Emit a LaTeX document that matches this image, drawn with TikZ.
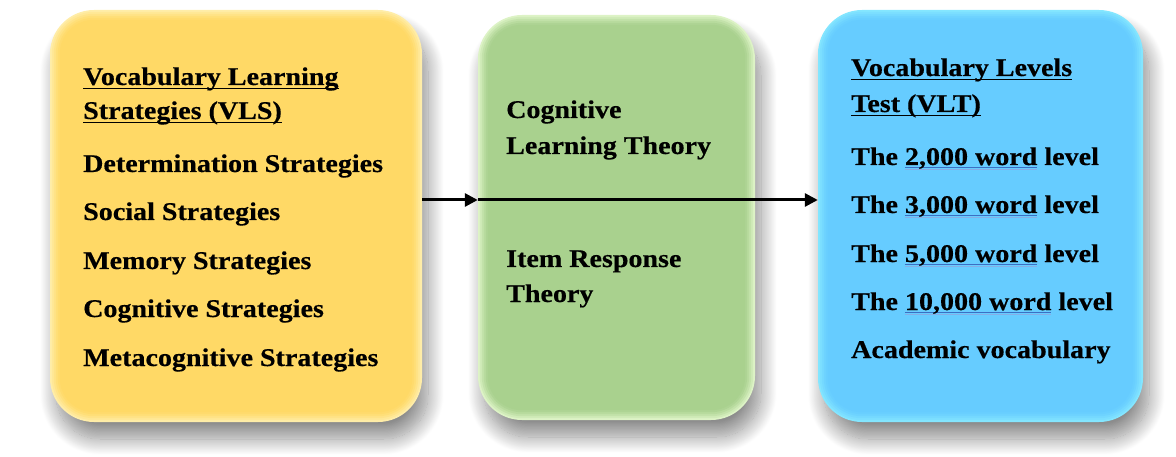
\documentclass[tikz,border=0pt]{standalone}
\usepackage{fontspec}
\setmainfont{Liberation Serif}[FakeStretch=1.1, BoldFeatures={FakeBold=0.4}]
\usetikzlibrary{calc,arrows.meta,shadows.blur}

\definecolor{ymain}{HTML}{FFD966}
\definecolor{yrim}{HTML}{FFEDA8}
\definecolor{gmain}{HTML}{A9D18E}
\definecolor{grim}{HTML}{DDF3C6}
\definecolor{bmain}{HTML}{66CCFF}
\definecolor{brim}{HTML}{84E6FF}
\definecolor{linkdark}{HTML}{3B6FC4}
\definecolor{linklight}{HTML}{86AEE6}

% word underline in black, crossing the descenders
\newcommand\headul[1]{\setbox0\hbox{#1}\rlap{\rule[-4.5pt]{\wd0}{1.4pt}}\box0\relax}
% double blue underline
\newcommand\linkul[1]{\setbox0\hbox{#1}\rlap{\color{linkdark}\rule[-3.2pt]{\wd0}{1.1pt}}\rlap{\color{linklight}\rule[-5.2pt]{\wd0}{0.8pt}}\box0\relax}

\tikzset{
  panel/.style={rounded corners=44pt, inner sep=0pt,
    blur shadow={shadow xshift=6pt, shadow yshift=-17pt,
      shadow blur radius=16pt, shadow blur steps=28,
      shadow opacity=45, shadow scale=1.0}},
  txt/.style={anchor=base west, inner sep=0pt,
    font=\fontsize{25.5}{30}\selectfont\bfseries},
  flow/.style={line width=3pt, -{Triangle[length=13pt,width=13pt]}},
}

% soft rim: rings inset step by step, from the rim colour to the fill colour
\newcommand\panelfill[3]{%
  \foreach \k/\p in {2/75,4/50,6/28,8/10,10/0}{%
    \fill[#3!\p!#2, rounded corners={44pt-\k pt}]
      ($(#1.south west)+(\k,-\k)$) rectangle ($(#1.north east)+(-\k,\k)$);}}

\begin{document}
\begin{tikzpicture}[x=1pt,y=-1pt]
\useasboundingbox (0,0) rectangle (1176,457);

% panels
\node[panel, fill=yrim, minimum width=372pt, minimum height=412pt] (vls) at (236,216) {};
\node[panel, fill=grim, minimum width=277pt, minimum height=405pt] (mid) at (616.5,217.5) {};
\node[panel, fill=brim, minimum width=325pt, minimum height=412pt] (vlt) at (980.5,216) {};
\panelfill{vls}{ymain}{yrim}
\panelfill{mid}{gmain}{grim}
\panelfill{vlt}{bmain}{brim}

% left panel text
\node[txt] (vls1) at (83,85)  {\headul{Vocabulary Learning}};
\node[txt] (vls2) at (83,119) {\headul{Strategies (VLS)}};
\node[txt] (vls3) at (83,172) {Determination Strategies};
\node[txt] (vls4) at (83,220) {Social Strategies};
\node[txt] (vls5) at (83,269) {Memory Strategies};
\node[txt] (vls6) at (83,317) {Cognitive Strategies};
\node[txt] (vls7) at (83,366) {Metacognitive Strategies};

% middle panel text
\node[txt] (mid1) at (506,118) {Cognitive};
\node[txt] (mid2) at (506,154) {Learning Theory};
\node[txt] (mid3) at (506,267) {Item Response};
\node[txt] (mid4) at (506,302) {Theory};

% right panel text
\node[txt] (vlt1) at (851,76)  {\headul{Vocabulary Levels}};
\node[txt] (vlt2) at (851,112) {\headul{Test (VLT)}};
\node[txt] (vlt3) at (851,165) {The \linkul{2,000 word} level};
\node[txt] (vlt4) at (851,213) {The \linkul{3,000 word} level};
\node[txt] (vlt5) at (851,262) {The \linkul{5,000 word} level};
\node[txt] (vlt6) at (851,310) {The \linkul{10,000 word} level};
\node[txt] (vlt7) at (851,358) {Academic vocabulary};

% connectors
\coordinate (row) at (0,200);
\draw[flow] (vls.east |- row) -- (mid.west |- row);
\draw[flow] (mid.west |- row) -- (vlt.west |- row);
\end{tikzpicture}
\end{document}
